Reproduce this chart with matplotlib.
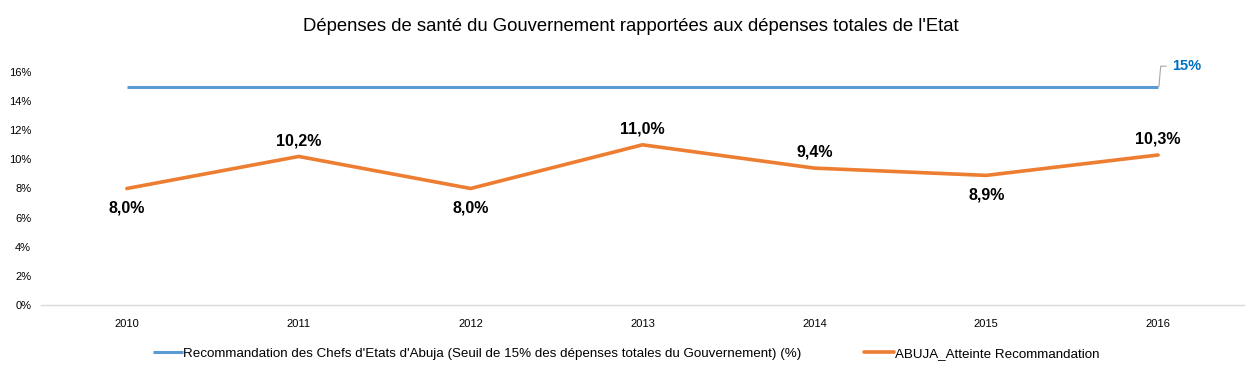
import matplotlib.pyplot as plt
from matplotlib.ticker import FuncFormatter

plt.rcParams['font.family'] = ['Liberation Sans', 'DejaVu Sans']

years = ['2010', '2011', '2012', '2013', '2014', '2015', '2016']
seuil = [15, 15, 15, 15, 15, 15, 15]
atteinte = [8.0, 10.2, 8.0, 11.0, 9.4, 8.9, 10.3]
label_pos = ['below', 'above', 'below', 'above', 'above', 'below', 'above']

BLUE = '#5B9BD5'
ORANGE = '#ED7D31'

fig = plt.figure(figsize=(12.52, 3.74), dpi=100)
ax = fig.add_axes([0.0327, 0.1845, 0.9609, 0.623])

x = list(range(len(years)))
ax.plot(x, seuil, color=BLUE, lw=2.2, solid_capstyle='butt',
        label="Recommandation des Chefs d'Etats d'Abuja (Seuil de 15% des dépenses totales du Gouvernement) (%)")
ax.plot(x, atteinte, color=ORANGE, lw=2.6, solid_capstyle='round',
        label='ABUJA_Atteinte Recommandation')

for xi, v, pos in zip(x, atteinte, label_pos):
    off = 6 if pos == 'above' else -9
    ax.annotate(f'{v:.1f}%'.replace('.', ','), (xi, v), xytext=(0, off),
                textcoords='offset points', ha='center',
                va='bottom' if pos == 'above' else 'top',
                fontsize=11.5, fontweight='bold', color='#000000')

# leader line + label for the 15% threshold
xe = x[-1]
ax.annotate('15%', xy=(xe + 0.005, seuil[-1]), xytext=(xe + 0.08, seuil[-1] + 1.4),
            fontsize=10.5, fontweight='bold', color='#0070C0',
            ha='left', va='center',
            arrowprops=dict(arrowstyle='-', color='#A6A6A6', lw=0.8,
                            connectionstyle='angle,angleA=0,angleB=85,rad=0',
                            shrinkA=2, shrinkB=0))

ax.set_xlim(-0.5, len(years) - 0.5)
ax.set_ylim(0, 16)
ax.set_yticks(range(0, 17, 2))
ax.yaxis.set_major_formatter(FuncFormatter(lambda v, p: f'{int(v)}%'))
ax.set_xticks(x)
ax.set_xticklabels(years)
ax.tick_params(axis='both', length=0, labelsize=8, colors='#000000')
ax.tick_params(axis='x', pad=10)
ax.tick_params(axis='y', pad=7)
for s in ['top', 'right', 'left']:
    ax.spines[s].set_visible(False)
ax.spines['bottom'].set_color('#D9D9D9')
ax.spines['bottom'].set_linewidth(1)

fig.text(0.504, 0.93, "Dépenses de santé du Gouvernement rapportées aux dépenses totales de l'Etat",
         ha='center', va='center', fontsize=13.3, color='#000000')

fig.legend(loc='center', bbox_to_anchor=(0.5, 0.055), ncol=2, frameon=False,
           fontsize=9.6, handlelength=2.25, handletextpad=0.05, columnspacing=4.7)

fig.savefig('out.png', dpi=100, facecolor='white')
